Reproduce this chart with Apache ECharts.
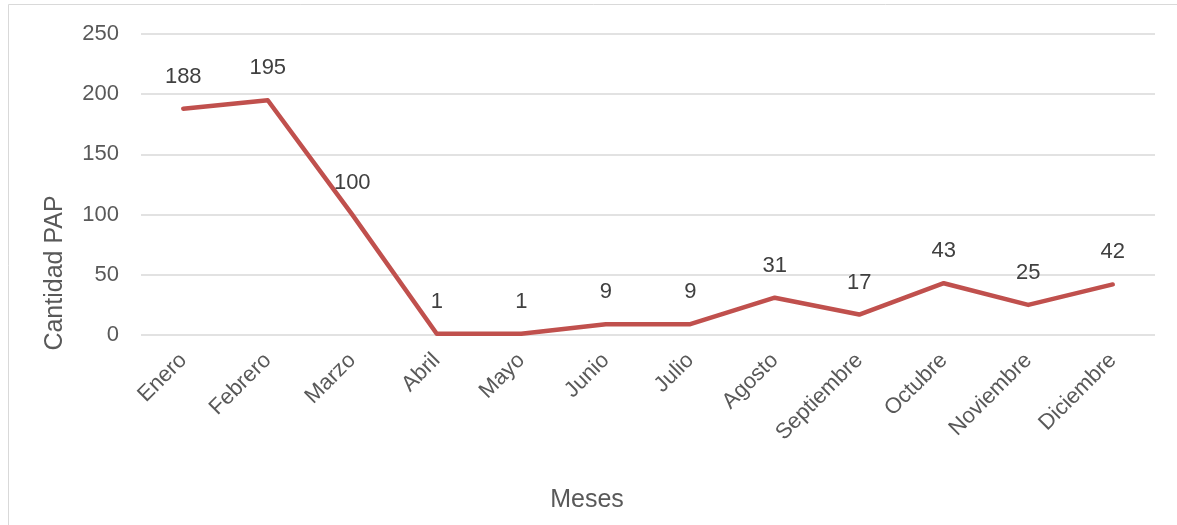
<!DOCTYPE html>
<html>
<head>
<meta charset="utf-8">
<script src="https://cdn.jsdelivr.net/npm/echarts@6/dist/echarts.min.js"></script>
<style>
  html, body { margin: 0; padding: 0; background: #fff; }
  #chart { width: 1177px; height: 525px; }
</style>
</head>
<body>
<div id="chart"></div>
<script>
// Monthly PAP counts
const meses = ['Enero', 'Febrero', 'Marzo', 'Abril', 'Mayo', 'Junio', 'Julio',
  'Agosto', 'Septiembre', 'Octubre', 'Noviembre', 'Diciembre'];
const cantidadPAP = [188, 195, 100, 1, 1, 9, 9, 31, 17, 43, 25, 42];
const yTicks = [0, 50, 100, 150, 200, 250];

const FONT = '"Liberation Sans", Arial, sans-serif';
const chart = echarts.init(document.getElementById('chart'), null, { renderer: 'canvas' });

chart.setOption({
  animation: false,
  backgroundColor: '#ffffff',
  grid: { left: 141, right: 22, top: 34, bottom: 190, containLabel: false },
  xAxis: {
    type: 'category',
    data: meses,
    boundaryGap: true,
    axisLine: { show: false },
    axisTick: { show: false },
    axisLabel: {
      rotate: 45,
      interval: 0,
      margin: 22,
      color: '#595959',
      fontFamily: FONT,
      fontSize: 22
    }
  },
  yAxis: {
    type: 'value',
    min: yTicks[0],
    max: yTicks[yTicks.length - 1],
    interval: 50,
    axisLine: { show: false },
    axisTick: { show: false },
    axisLabel: {
      margin: 22,
      color: '#595959',
      fontFamily: FONT,
      fontSize: 22
    },
    splitLine: { lineStyle: { color: '#d9d9d9', width: 1.5 } }
  },
  series: [{
    type: 'line',
    data: cantidadPAP,
    symbol: 'circle',
    symbolSize: 0,
    showSymbol: true,
    itemStyle: { color: '#c0504d' },
    lineStyle: { color: '#c0504d', width: 4.5, cap: 'round', join: 'round' },
    label: {
      show: true,
      position: 'top',
      distance: 21,
      color: '#404040',
      fontFamily: FONT,
      fontSize: 22
    },
    labelLayout: { hideOverlap: false }
  }],
  graphic: [
    {
      type: 'rect',
      shape: { x: 8.5, y: 4.5, width: 1300, height: 600 },
      style: { fill: 'none', stroke: '#d9d9d9', lineWidth: 1 },
      silent: true
    },
    {
      type: 'text',
      x: 55, y: 273,
      rotation: Math.PI / 2,
      style: {
        text: 'Cantidad PAP',
        fill: '#595959',
        font: '25px ' + FONT,
        align: 'center',
        verticalAlign: 'middle'
      }
    },
    {
      type: 'text',
      x: 587, y: 500,
      style: {
        text: 'Meses',
        fill: '#595959',
        font: '25px ' + FONT,
        align: 'center',
        verticalAlign: 'middle'
      }
    }
  ]
});
</script>
</body>
</html>
